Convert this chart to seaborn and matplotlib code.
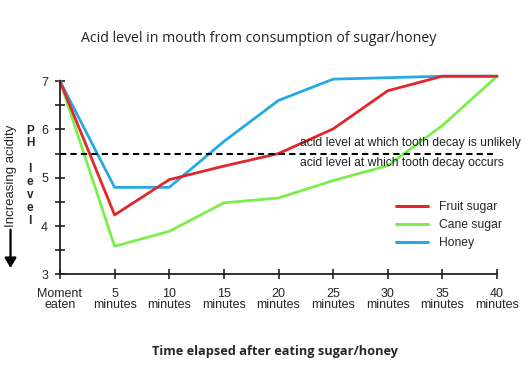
import matplotlib
matplotlib.use("Agg")
import matplotlib.pyplot as plt
from matplotlib.lines import Line2D
from matplotlib.patches import FancyArrowPatch
import pandas as pd
import seaborn as sns

minutes = [0, 5, 10, 15, 20, 25, 30, 35, 40]
tick_labels = ["Moment\neaten", "5\nminutes", "10\nminutes", "15\nminutes", "20\nminutes",
               "25\nminutes", "30\nminutes", "35\nminutes", "40\nminutes"]
honey = [7.0, 4.8, 4.8, 5.75, 6.6, 7.04, 7.07, 7.1, 7.1]
cane_sugar = [7.0, 3.58, 3.89, 4.48, 4.58, 4.94, 5.25, 6.08, 7.1]
fruit_sugar = [7.0, 4.23, 4.96, 5.24, 5.5, 6.01, 6.8, 7.1, 7.1]
decay_level = 5.5

series = {"Fruit sugar": fruit_sugar, "Cane sugar": cane_sugar, "Honey": honey}
colors = {"Fruit sugar": "#e3262b", "Cane sugar": "#7aee4c", "Honey": "#25aae3"}

rows = []
for name, vals in series.items():
    for m, v in zip(minutes, vals):
        rows.append({"minute": m, "ph": v, "sugar": name})
df = pd.DataFrame(rows)

sns.set_style("white")
plt.rcParams["font.family"] = ["Liberation Sans", "DejaVu Sans"]

fig = plt.figure(figsize=(5.26, 3.66), dpi=100)
ax = fig.add_axes([0.114, 0.2505, 0.831, 0.528])

# honey first so fruit sugar sits on top where they overlap
for name in ["Honey", "Cane sugar", "Fruit sugar"]:
    sub = df[df["sugar"] == name]
    sns.lineplot(data=sub, x="minute", y="ph", color=colors[name], lw=2,
                 ax=ax, clip_on=False)

ax.plot([0, 39.6], [decay_level, decay_level], ls=(0, (3, 2)), color="black", lw=1.5)
ax.text(22, decay_level + 0.09, "acid level at which tooth decay is unlikely",
        fontsize=8.7, color="#222222", va="bottom", clip_on=False)
ax.text(22, decay_level - 0.08, "acid level at which tooth decay occurs",
        fontsize=8.7, color="#222222", va="top", clip_on=False)

ax.set_xlim(0, 40)
ax.set_ylim(3, 7)
ax.set_xticks(minutes)
ax.set_xticklabels(tick_labels, linespacing=0.95)
ax.set_yticks([3, 4, 5, 6, 7])
ax.set_yticks([3.5, 4.5, 5.5, 6.5], minor=True)
ax.tick_params(axis="both", which="both", direction="inout", length=7, width=1.2,
               color="#222222", labelsize=9, pad=6, bottom=True, left=True)
ax.tick_params(axis="y", which="major", pad=5)
for s in ["top", "right"]:
    ax.spines[s].set_visible(False)
for s in ["left", "bottom"]:
    ax.spines[s].set_color("#222222")
    ax.spines[s].set_linewidth(1.3)
ax.set_xlabel("")
ax.set_ylabel("")

handles = [Line2D([], [], color=colors[n], lw=2.2) for n in series]
ax.legend(handles, list(series), loc="upper left", bbox_to_anchor=(0.745, 0.435),
          frameon=False, fontsize=8.7, handlelength=2.6, handletextpad=0.9,
          labelspacing=0.5)

fig.text(0.492, 0.895, "Acid level in mouth from consumption of sugar/honey",
         ha="center", va="center", fontsize=10.2, family=["Open Sans", "DejaVu Sans"],
         color="#222222")
fig.text(0.522, 0.04, "Time elapsed after eating sugar/honey", ha="center", va="center",
         fontsize=9.2, fontweight="bold", family=["Open Sans", "DejaVu Sans"])
fig.text(0.057, 0.52, "\n".join("PH level"), ha="center", va="center",
         fontsize=8.5, fontweight="bold", linespacing=1.1)
fig.text(0.02, 0.52, "Increasing acidity", rotation=90, ha="center", va="center",
         fontsize=9.5)
fig.patches.append(FancyArrowPatch(
    (0.02, 0.38), (0.02, 0.26), transform=fig.transFigure,
    arrowstyle="-|>,head_length=6,head_width=3.5", color="black", lw=1.6))

fig.savefig("out.png", dpi=100)
